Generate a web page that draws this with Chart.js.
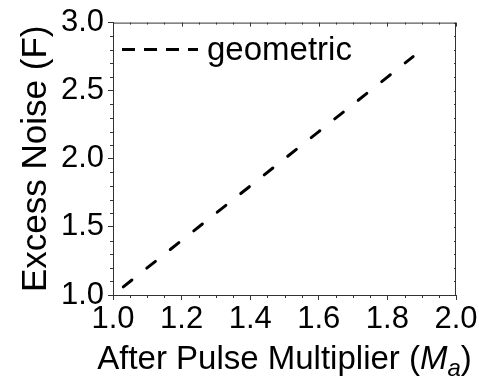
<!DOCTYPE html>
<html>
<head>
    <title>Excess Noise vs After Pulse Multiplier</title>
    <script src="https://cdn.jsdelivr.net/npm/chart.js"></script>
    <style>
        body {
            margin: 0;
            background: white;
        }
        #wrap {
            width: 479px;
            height: 378px;
        }
    </style>
</head>
<body>
    <div id="wrap">
        <canvas id="myChart" width="479" height="378"></canvas>
    </div>
    <script>
        // values
        const seriesLabel = 'geometric';
        const multiplier = [1.03, 1.2, 1.4, 1.6, 1.8, 1.875];
        const excessNoise = [1.06, 1.40, 1.80, 2.20, 2.60, 2.75];

        const xTitle = ['After Pulse Multiplier (', 'M', 'a', ')'];
        const yTitle = 'Excess Noise (F)';

        const FONT = '"Liberation Sans", Arial, Helvetica, sans-serif';
        const axisColor = '#333';
        Chart.defaults.font.family = FONT;
        Chart.defaults.color = '#000';

        // minor / inward ticks, box edges, legend and x title
        const decor = {
            id: 'decor',
            afterDraw(chart) {
                const ctx = chart.ctx;
                const a = chart.chartArea;
                const xs = chart.scales.x, ys = chart.scales.y;
                ctx.save();
                ctx.strokeStyle = axisColor;
                ctx.lineWidth = 1;

                // top and right edges
                ctx.beginPath();
                ctx.moveTo(a.left, a.top + 0.5);
                ctx.lineTo(a.right, a.top + 0.5);
                ctx.moveTo(a.right - 0.5, a.top);
                ctx.lineTo(a.right - 0.5, a.bottom);
                ctx.stroke();

                ctx.beginPath();
                for (let i = 0; i <= 20; i++) {
                    const v = 1 + i * 0.05;
                    const px = Math.round(xs.getPixelForValue(v)) + 0.5;
                    const major = i % 4 === 0;
                    if (!major) {
                        ctx.moveTo(px, a.bottom);
                        ctx.lineTo(px, a.bottom + 3);
                    }
                    ctx.moveTo(px, a.top);
                    ctx.lineTo(px, a.top + (major ? 4 : 2));
                }
                for (let i = 0; i <= 20; i++) {
                    const v = 1 + i * 0.1;
                    const py = Math.round(ys.getPixelForValue(v)) + 0.5;
                    if (i % 5 !== 0) {
                        ctx.moveTo(a.left, py);
                        ctx.lineTo(a.left - 3, py);
                    }
                    ctx.moveTo(a.right, py);
                    ctx.lineTo(a.right - 2, py);
                }
                ctx.stroke();

                // legend
                const ds = chart.data.datasets[0];
                const lx = a.left + 9, ly = a.top + 27;
                ctx.strokeStyle = ds.borderColor;
                ctx.lineWidth = 3;
                ctx.setLineDash([13, 9]);
                ctx.beginPath();
                ctx.moveTo(lx, ly);
                ctx.lineTo(lx + 76, ly);
                ctx.stroke();
                ctx.setLineDash([]);
                ctx.fillStyle = '#000';
                ctx.font = '33px ' + FONT;
                ctx.textBaseline = 'alphabetic';
                ctx.textAlign = 'left';
                ctx.fillText(ds.label, lx + 85, ly + 10);

                // x title with italic subscript
                const big = '33px ' + FONT, ital = 'italic 33px ' + FONT, sub = 'italic 24px ' + FONT;
                const parts = [[xTitle[0], big, 0], [xTitle[1], ital, 0], [xTitle[2], sub, 7], [xTitle[3], big, 0]];
                let w = 0;
                parts.forEach(p => { ctx.font = p[1]; w += ctx.measureText(p[0]).width; });
                let tx = (a.left + a.right) / 2 - w / 2;
                const ty = 369;
                parts.forEach(p => {
                    ctx.font = p[1];
                    ctx.fillText(p[0], tx, ty + p[2]);
                    tx += ctx.measureText(p[0]).width;
                });
                ctx.restore();
            }
        };

        const ctx = document.getElementById('myChart').getContext('2d');
        new Chart(ctx, {
            type: 'line',
            data: {
                datasets: [{
                    label: seriesLabel,
                    data: multiplier.map((m, i) => ({ x: m, y: excessNoise[i] })),
                    borderColor: '#000',
                    borderWidth: 3,
                    borderDash: [11, 19],
                    borderCapStyle: 'round',
                    pointRadius: 0,
                    tension: 0,
                    fill: false
                }]
            },
            options: {
                responsive: false,
                animation: false,
                layout: {
                    padding: { left: 0, right: 23, top: 20, bottom: 0 }
                },
                plugins: {
                    legend: { display: false },
                    tooltip: { enabled: false }
                },
                scales: {
                    x: {
                        type: 'linear',
                        min: 1.0,
                        max: 2.0,
                        ticks: {
                            stepSize: 0.2,
                            callback: v => v.toFixed(1),
                            font: { size: 31 },
                            color: '#000',
                            padding: 1,
                            maxRotation: 0
                        },
                        grid: { drawOnChartArea: false, tickLength: 5, color: axisColor },
                        border: { color: axisColor },
                        afterFit: s => { s.height = 83; }
                    },
                    y: {
                        min: 1.0,
                        max: 3.0,
                        ticks: {
                            stepSize: 0.5,
                            callback: v => v.toFixed(1),
                            font: { size: 31 },
                            color: '#000',
                            padding: 4
                        },
                        grid: { drawOnChartArea: false, tickLength: 5, color: axisColor },
                        border: { color: axisColor },
                        title: {
                            display: true,
                            text: yTitle,
                            font: { size: 35 },
                            color: '#000',
                            padding: { top: 15, bottom: 0 }
                        },
                        afterFit: s => { s.width = 113; }
                    }
                }
            },
            plugins: [decor]
        });
    </script>
</body>
</html>
